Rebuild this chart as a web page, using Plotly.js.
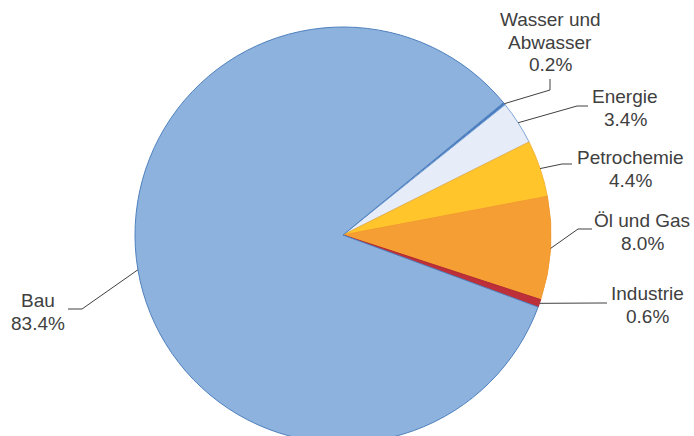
<!DOCTYPE html>
<html><head><meta charset="utf-8">
<script src="https://cdn.plot.ly/plotly-3.0.1.min.js"></script>
<style>html,body{margin:0;padding:0;overflow:hidden;background:#fff}</style>
</head><body>
<div id="chart" style="width:694px;height:450px"></div>
<script>
// Data
const categories = ["Wasser und Abwasser", "Energie", "Petrochemie", "Öl und Gas", "Industrie", "Bau"];
const labelLines = [["Wasser und", "Abwasser"], ["Energie"], ["Petrochemie"], ["Öl und Gas"], ["Industrie"], ["Bau"]];
const shares = [0.2, 3.4, 4.4, 8.0, 0.6, 83.4];

// Styles / layout
const fillColors = ["#4A7CC0", "#E6EDF8", "#FFC52A", "#F59E34", "#BE3039", "#8DB2DE"];
const edgeColors = ["#4A7CC0", "#7FA6D8", "#F5B53A", "#F29A30", "#B02A33", "#4F81BD"];
const W = 694, H = 450;
const cx = 343, cy = 235, R = 208;
const rotationDeg = 50.5;
// label placement: text centre x, first line y, leader elbow and end (pixels)
const labelPos = [
  {x: 550, y: 19, elbow: [550, 90], end: [550, 79]},
  {x: 625, y: 97, elbow: [577, 106], end: [588, 106]},
  {x: 630, y: 157, elbow: [562, 164], end: [572, 164]},
  {x: 642, y: 220, elbow: [578, 229], end: [592, 229]},
  {x: 647, y: 293, elbow: [600, 303], end: [607, 303]},
  {x: 38, y: 300, elbow: [82, 309], end: [68, 309]}
];
const lineGap = 23;
const textColor = "#404040";

const px = x => x / W;
const py = y => 1 - y / H;

const total = shares.reduce((a, b) => a + b, 0);
const annotations = [];
const shapes = [];
let acc = 0;
shares.forEach((v, i) => {
  const mid = (rotationDeg + (acc + v / 2) / total * 360) * Math.PI / 180;
  acc += v;
  const ex = cx + R * Math.sin(mid), ey = cy - R * Math.cos(mid);
  const lp = labelPos[i];
  shapes.push({
    type: "path", xref: "paper", yref: "paper",
    path: `M ${px(ex)},${py(ey)} L ${px(lp.elbow[0])},${py(lp.elbow[1])} L ${px(lp.end[0])},${py(lp.end[1])}`,
    line: {color: textColor, width: 1}
  });
  const lines = labelLines[i].concat([v.toFixed(1) + "%"]);
  lines.forEach((t, k) => {
    annotations.push({
      xref: "paper", yref: "paper", x: px(lp.x), y: py(lp.y + k * lineGap),
      xanchor: "center", yanchor: "middle", showarrow: false, text: t,
      font: {family: "Liberation Sans, Arial, sans-serif", size: 19, color: textColor}
    });
  });
});

const trace = {
  type: "pie",
  labels: categories,
  values: shares,
  sort: false,
  direction: "clockwise",
  rotation: rotationDeg,
  textinfo: "none",
  hoverinfo: "skip",
  marker: {colors: fillColors, line: {color: edgeColors, width: 1}},
  domain: {x: [px(cx - R), px(cx + R)], y: [py(cy + R), py(cy - R)]},
  showlegend: false
};

Plotly.newPlot("chart", [trace], {
  width: W, height: H,
  margin: {l: 0, r: 0, t: 0, b: 0, pad: 0},
  paper_bgcolor: "#fff", plot_bgcolor: "#fff",
  showlegend: false,
  annotations: annotations,
  shapes: shapes
}, {displayModeBar: false, staticPlot: true});
</script>
</body></html>
